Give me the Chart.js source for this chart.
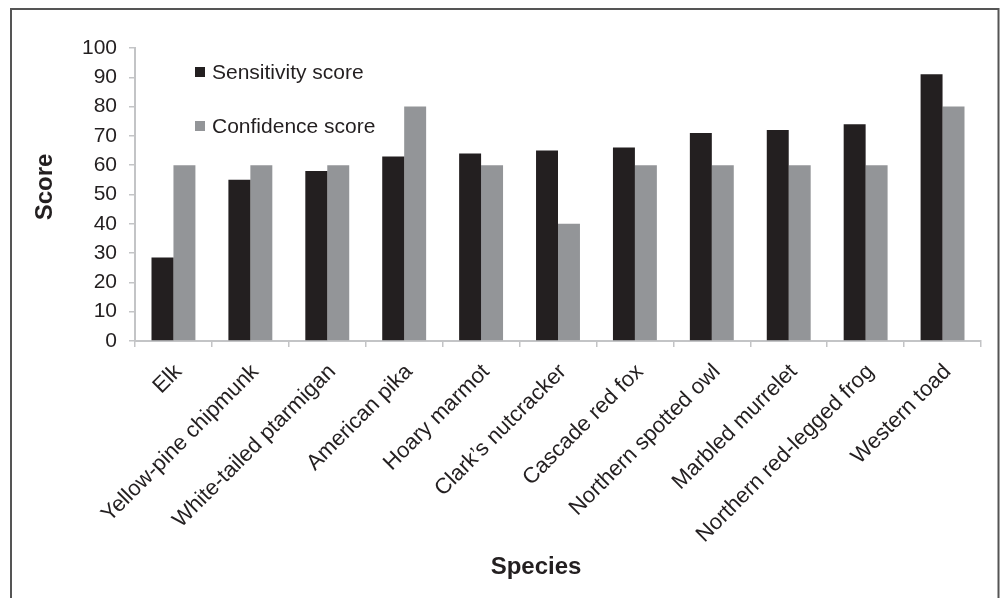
<!DOCTYPE html>
<html>
<head>
<meta charset="utf-8">
<script src="https://cdn.jsdelivr.net/npm/chart.js@4.4.1/dist/chart.umd.min.js"></script>
<style>
  html, body { margin: 0; padding: 0; background: #ffffff; overflow: hidden; }
  #wrap { position: relative; width: 1004px; height: 598px; }
</style>
</head>
<body>
<div id="wrap"><canvas id="chart" width="1004" height="598"></canvas></div>
<script>
// Species assessed, in plotting order
const species = [
  'Elk',
  'Yellow-pine chipmunk',
  'White-tailed ptarmigan',
  'American pika',
  'Hoary marmot',
  'Clark\u2019s nutcracker',
  'Cascade red fox',
  'Northern spotted owl',
  'Marbled murrelet',
  'Northern red-legged frog',
  'Western toad'
];

// Scores per species
const sensitivityScores = [28.5, 55, 58, 63, 64, 65, 66, 71, 72, 74, 91];
const confidenceScores  = [60, 60, 60, 80, 60, 40, 60, 60, 60, 60, 80];

// Series and axis captions
const seriesNames = ['Sensitivity score', 'Confidence score'];
const yAxisTitle = 'Score';
const xAxisTitle = 'Species';

// Value axis ticks
const scoreTicks = [0, 10, 20, 30, 40, 50, 60, 70, 80, 90, 100];

const INK = '#231f20';
const AXIS = '#c3c4c6';
const FONT = '"Liberation Sans", Arial, Helvetica, sans-serif';

// Page frame around the figure
const framePlugin = {
  id: 'frame',
  beforeDraw(chart) {
    const ctx = chart.ctx;
    ctx.save();
    ctx.fillStyle = '#ffffff';
    ctx.fillRect(0, 0, chart.width, chart.height);
    ctx.strokeStyle = '#555555';
    ctx.lineWidth = 2;
    ctx.strokeRect(11, 9, 987.5, 620);
    ctx.restore();
  }
};

// Stacked legend drawn inside the plot area
const innerLegendPlugin = {
  id: 'innerLegend',
  afterDraw(chart) {
    const ctx = chart.ctx;
    ctx.save();
    ctx.font = '21px ' + FONT;
    ctx.textBaseline = 'middle';
    ctx.textAlign = 'left';
    chart.data.datasets.forEach((ds, i) => {
      const cy = 72 + i * 54;
      ctx.fillStyle = ds.backgroundColor;
      ctx.fillRect(195, cy - 5, 10, 10);
      ctx.fillStyle = INK;
      ctx.fillText(ds.label, 212, cy + 1);
    });
    ctx.restore();
  }
};

// Axis captions
const axisCaptionPlugin = {
  id: 'axisCaptions',
  afterDraw(chart) {
    const ctx = chart.ctx;
    ctx.save();
    ctx.font = 'bold 24px ' + FONT;
    ctx.fillStyle = INK;
    ctx.textAlign = 'center';
    ctx.textBaseline = 'middle';
    ctx.fillText(xAxisTitle, 536, 567);
    ctx.translate(45, 187);
    ctx.rotate(-Math.PI / 2);
    ctx.fillText(yAxisTitle, 0, 0);
    ctx.restore();
  }
};

new Chart(document.getElementById('chart'), {
  type: 'bar',
  data: {
    labels: species,
    datasets: [
      {
        label: seriesNames[0],
        data: sensitivityScores,
        backgroundColor: '#231f20',
        borderWidth: 0
      },
      {
        label: seriesNames[1],
        data: confidenceScores,
        backgroundColor: '#939598',
        borderWidth: 0
      }
    ]
  },
  options: {
    responsive: false,
    animation: false,
    devicePixelRatio: 1,
    categoryPercentage: 0.571,
    barPercentage: 1.0,
    layout: { padding: { left: 0, top: 48, right: 23, bottom: 0 } },
    plugins: {
      legend: { display: false },
      tooltip: { enabled: false }
    },
    scales: {
      x: {
        offset: true,
        grid: {
          offset: true,
          drawOnChartArea: false,
          drawTicks: true,
          tickLength: 6,
          color: AXIS,
          lineWidth: 1.5
        },
        border: { display: true, color: AXIS, width: 2 },
        ticks: {
          color: INK,
          font: { family: FONT, size: 22 },
          minRotation: 45,
          maxRotation: 45,
          autoSkip: false,
          padding: 12,
          labelOffset: 5
        },
        afterFit(scale) { scale.height = 257; }
      },
      y: {
        min: 0,
        max: 100,
        afterBuildTicks(scale) {
          scale.ticks = scoreTicks.map(v => ({ value: v }));
        },
        grid: {
          drawOnChartArea: false,
          drawTicks: true,
          tickLength: 6,
          color: AXIS,
          lineWidth: 1.5
        },
        border: { display: true, color: AXIS, width: 2 },
        ticks: {
          color: INK,
          font: { family: FONT, size: 21 },
          padding: 12
        },
        afterFit(scale) { scale.width = 135; }
      }
    }
  },
  plugins: [framePlugin, innerLegendPlugin, axisCaptionPlugin]
});
</script>
</body>
</html>
